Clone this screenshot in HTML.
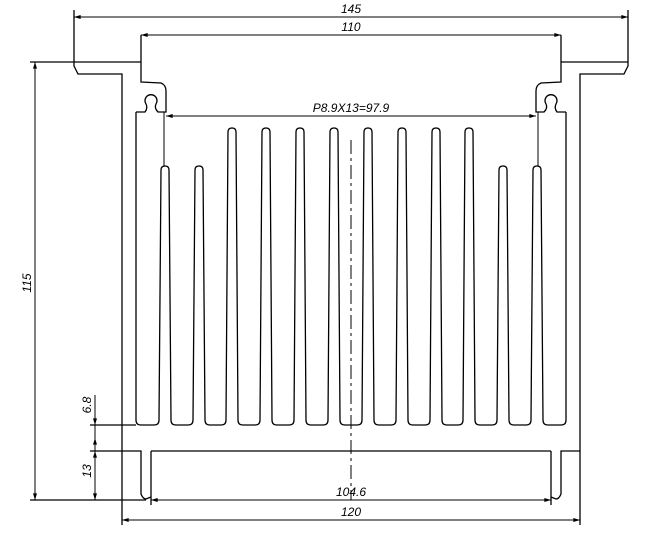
<!DOCTYPE html><html><head><style>body{margin:0;background:#fff}svg{display:block}text{font-family:"Liberation Sans",sans-serif;font-size:12px;font-style:italic;fill:#000}</style></head><body>
<svg width="649" height="534" viewBox="0 0 649 534" xmlns="http://www.w3.org/2000/svg">
<defs><marker id="a" viewBox="0 0 10 6" refX="10" refY="3" markerWidth="8" markerHeight="4" orient="auto-start-reverse" markerUnits="userSpaceOnUse"><path d="M0,0L10,3L0,6z"/></marker></defs>
<g fill="none" stroke="#000" stroke-width="1.3">
<path d="M74,10 L74,66 L78,74 L122,74 L122,525"/>
<path d="M628,10 L628,66 L624,74 L580,74 L580,525"/>
<path d="M30,62 L141,62 M561,62 L628,62"/>
<path d="M141,35 L141,82 L161,83 Q166,85 166,91 L166,112 L158,112 Q154,108 156,104 A6,6 0 1 0 146,104 Q148,108 145,112 L136,112"/>
<path d="M561,35 L561,82 L541,83 Q536,85 536,91 L536,112 L544,112 Q548,108 546,104 A6,6 0 1 1 556,104 Q554,108 557,112 L566,112"/>
<path d="M164,112 L164,166" stroke-width="1"/><path d="M538,112 L538,166" stroke-width="1"/>
<path d="M136,112 L136,420 Q136,425 141,425 L154,425
Q159,425 159,420 L161,170 Q161,166 165,166 Q169,166 169,170 L171,420 Q171,425 176,425 L188,425
Q193,425 193,420 L195,170 Q195,166 199,166 Q203,166 203,170 L205,420 Q205,425 210,425 L221,425
Q226,425 226,420 L228,132 Q228,128 232,128 Q236,128 236,132 L238,420 Q238,425 243,425 L255,425
Q260,425 260,420 L262,132 Q262,128 266,128 Q270,128 270,132 L272,420 Q272,425 277,425 L289,425
Q294,425 294,420 L296,132 Q296,128 300,128 Q304,128 304,132 L306,420 Q306,425 311,425 L323,425
Q328,425 328,420 L330,132 Q330,128 334,128 Q338,128 338,132 L340,420 Q340,425 345,425 L357,425
Q362,425 362,420 L364,132 Q364,128 368,128 Q372,128 372,132 L374,420 Q374,425 379,425 L391,425
Q396,425 396,420 L398,132 Q398,128 402,128 Q406,128 406,132 L408,420 Q408,425 413,425 L425,425
Q430,425 430,420 L432,132 Q432,128 436,128 Q440,128 440,132 L442,420 Q442,425 447,425 L458,425
Q463,425 463,420 L465,132 Q465,128 469,128 Q473,128 473,132 L475,420 Q475,425 480,425 L492,425
Q497,425 497,420 L499,170 Q499,166 503,166 Q507,166 507,170 L509,420 Q509,425 514,425 L526,425
Q531,425 531,420 L533,170 Q533,166 537,166 Q541,166 541,170 L543,420 Q543,425 548,425 L561,425 Q566,425 566,420 L566,112"/>
<path d="M90,425 L136,425"/>
<path d="M90,451 L141,451 L141,494 Q143,499 146,499 L151,497 M151,451 L151,505 M151,451 L551,451 M551,451 L551,505 M551,497 L556,499 Q559,499 561,494 L561,451 L580,451"/>
<path d="M30,500 L146,500"/>
<path d="M351,140 L351,490" stroke-dasharray="14,4,3,4" stroke-width="1"/>
<path d="M351,490 L351,500" stroke-width="1"/>
</g>
<g stroke="#000" stroke-width="1" fill="none">
<line x1="74" y1="17" x2="628" y2="17" marker-start="url(#a)" marker-end="url(#a)"/>
<line x1="141" y1="35" x2="561" y2="35" marker-start="url(#a)" marker-end="url(#a)"/>
<line x1="166" y1="116" x2="536" y2="116" marker-start="url(#a)" marker-end="url(#a)"/>
<line x1="151" y1="500" x2="551" y2="500" marker-start="url(#a)" marker-end="url(#a)"/>
<line x1="122" y1="520" x2="580" y2="520" marker-start="url(#a)" marker-end="url(#a)"/>
<line x1="35" y1="62" x2="35" y2="500" marker-start="url(#a)" marker-end="url(#a)"/>
<line x1="95" y1="395" x2="95" y2="425" marker-end="url(#a)"/>
<line x1="95" y1="451" x2="95" y2="438" marker-end="url(#a)"/>
<line x1="95" y1="438" x2="95" y2="425"/>
<line x1="95" y1="451" x2="95" y2="500" marker-start="url(#a)" marker-end="url(#a)"/>
</g>
<text x="351" y="13" text-anchor="middle">145</text>
<text x="351" y="31" text-anchor="middle">110</text>
<text x="351" y="112" text-anchor="middle">P8.9X13=97.9</text>
<text x="351" y="496" text-anchor="middle">104.6</text>
<text x="351" y="516" text-anchor="middle">120</text>
<text transform="translate(31,283) rotate(-90)" text-anchor="middle">115</text>
<text transform="translate(91,405) rotate(-90)" text-anchor="middle">6.8</text>
<text transform="translate(91,471) rotate(-90)" text-anchor="middle">13</text>
</svg>
</body></html>
